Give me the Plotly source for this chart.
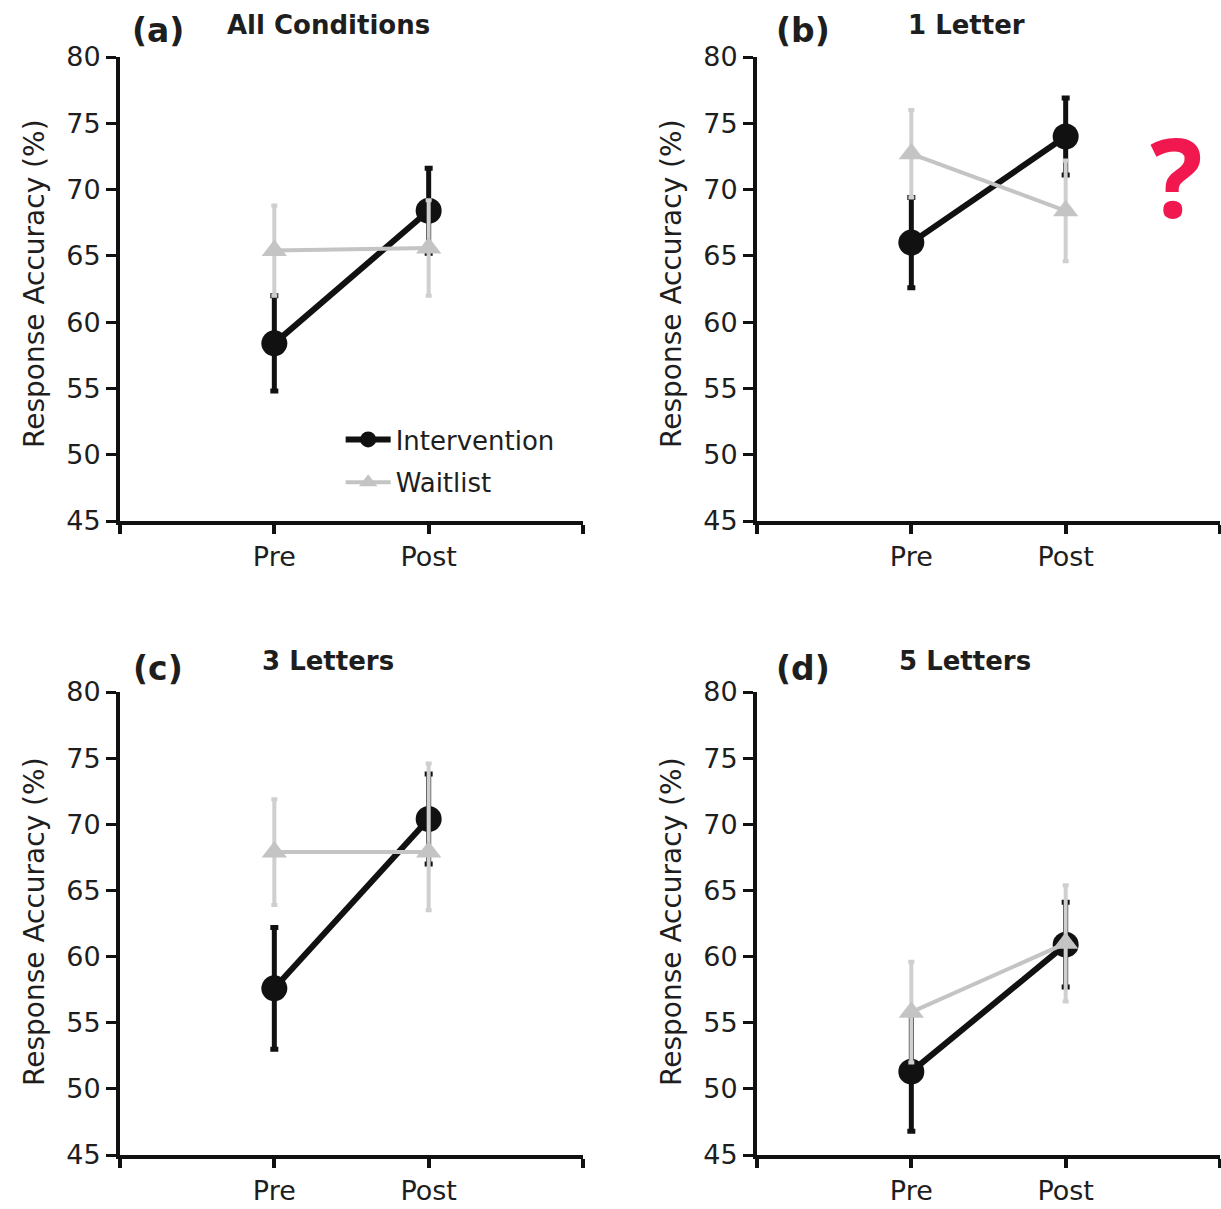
import plotly.graph_objects as go

# ---------------- data ----------------
phases = ["Pre", "Post"]
panel_labels = ["(a)", "(b)", "(c)", "(d)"]
panel_titles = ["All Conditions", "1 Letter", "3 Letters", "5 Letters"]
y_title = "Response Accuracy (%)"

intervention_a = [58.4, 68.4]
intervention_b = [66.0, 74.0]
intervention_c = [57.6, 70.4]
intervention_d = [51.3, 60.9]
intervention_err_a = [3.6, 3.2]
intervention_err_b = [3.4, 2.9]
intervention_err_c = [4.6, 3.4]
intervention_err_d = [4.5, 3.2]

waitlist_a = [65.4, 65.6]
waitlist_b = [72.7, 68.4]
waitlist_c = [67.9, 67.9]
waitlist_d = [55.8, 61.0]
waitlist_err_plus_a = [3.4, 3.6]
waitlist_err_plus_b = [3.3, 3.8]
waitlist_err_plus_c = [4.0, 6.7]
waitlist_err_plus_d = [3.8, 4.4]
waitlist_err_minus_a = [3.4, 3.6]
waitlist_err_minus_b = [3.3, 3.8]
waitlist_err_minus_c = [4.0, 4.4]
waitlist_err_minus_d = [3.8, 4.4]

y_ticks = [45, 50, 55, 60, 65, 70, 75, 80]

intervention = [intervention_a, intervention_b, intervention_c, intervention_d]
intervention_err = [intervention_err_a, intervention_err_b, intervention_err_c, intervention_err_d]
waitlist = [waitlist_a, waitlist_b, waitlist_c, waitlist_d]
waitlist_err_plus = [waitlist_err_plus_a, waitlist_err_plus_b, waitlist_err_plus_c, waitlist_err_plus_d]
waitlist_err_minus = [waitlist_err_minus_a, waitlist_err_minus_b, waitlist_err_minus_c, waitlist_err_minus_d]

# ---------------- style ----------------
W, H = 1221, 1209
FONT = "DejaVu Sans"
BLACK = "#111111"
GRAY = "#c4c4c4"
GRAY_ERR = "#cfcfcf"
TEXT = "#1e1e1e"

x_dom = [[120 / W, 583 / W], [757 / W, 1220 / W], [120 / W, 583 / W], [757 / W, 1220 / W]]
y_dom = [[1 - 521 / H, 1 - 57 / H], [1 - 521 / H, 1 - 57 / H],
         [1 - 1155 / H, 1 - 692 / H], [1 - 1155 / H, 1 - 692 / H]]

xpos = list(range(len(phases)))

fig = go.Figure()

for i in range(4):
    sfx = "" if i == 0 else str(i + 1)
    xa, ya = "x" + sfx, "y" + sfx
    fig.add_trace(go.Scatter(
        x=xpos, y=intervention[i], xaxis=xa, yaxis=ya,
        mode="lines+markers", name="Intervention",
        legendgroup="int", showlegend=(i == 0),
        line=dict(color=BLACK, width=6),
        marker=dict(symbol="circle", size=26, color=BLACK),
        error_y=dict(type="data", array=intervention_err[i], color=BLACK,
                     thickness=5, width=4),
        cliponaxis=False,
    ))
    fig.add_trace(go.Scatter(
        x=xpos, y=waitlist[i], xaxis=xa, yaxis=ya,
        mode="lines+markers", name="Waitlist",
        legendgroup="wait", showlegend=(i == 0),
        line=dict(color=GRAY, width=4),
        marker=dict(symbol="triangle-up", size=22, color=GRAY),
        error_y=dict(type="data", symmetric=False, array=waitlist_err_plus[i],
                     arrayminus=waitlist_err_minus[i], color=GRAY_ERR,
                     thickness=4, width=3),
        cliponaxis=False,
    ))

layout = dict(
    width=W, height=H,
    margin=dict(l=0, r=0, t=0, b=0, autoexpand=False),
    paper_bgcolor="white", plot_bgcolor="white",
    font=dict(family=FONT, color=TEXT),
    showlegend=True,
    legend=dict(x=0.279, y=1 - 416 / H, xanchor="left", yanchor="top",
                font=dict(size=26, family=FONT, color=TEXT),
                bgcolor="rgba(0,0,0,0)", itemwidth=45, tracegroupgap=6),
)

for i in range(4):
    sfx = "" if i == 0 else str(i + 1)
    layout["xaxis" + sfx] = dict(
        domain=x_dom[i], anchor="y" + sfx, range=[-1, 2],
        tickmode="array", tickvals=[-1] + xpos + [2],
        ticktext=[""] + phases + [""],
        showline=True, linecolor=BLACK, linewidth=4,
        ticks="outside", ticklen=9, tickwidth=4, tickcolor=BLACK,
        showgrid=False, zeroline=False, automargin=False,
        tickfont=dict(size=27, family=FONT, color=TEXT),
    )
    layout["yaxis" + sfx] = dict(
        domain=y_dom[i], anchor="x" + sfx, range=[45, 80],
        tickmode="array", tickvals=y_ticks,
        showline=True, linecolor=BLACK, linewidth=4,
        ticks="outside", ticklen=10, tickwidth=3, tickcolor=BLACK,
        showgrid=False, zeroline=False, automargin=False,
        tickfont=dict(size=27, family=FONT, color=TEXT),
    )

fig.update_layout(**layout)

label_pos = [(158, 30), (803, 30), (158, 668), (803, 668)]
title_pos = [(328, 25), (966, 25), (328, 661), (965, 661)]
ytitle_pos = [(34, 284), (671, 284), (34, 922), (671, 922)]
for i in range(4):
    lx, ly = label_pos[i]
    tx, ty = title_pos[i]
    yx, yy = ytitle_pos[i]
    fig.add_annotation(x=lx / W, y=1 - ly / H, xref="paper", yref="paper",
                       text="<b>" + panel_labels[i] + "</b>", showarrow=False,
                       xanchor="center", yanchor="middle",
                       font=dict(size=33, family=FONT, color=TEXT))
    fig.add_annotation(x=tx / W, y=1 - ty / H, xref="paper", yref="paper",
                       text="<b>" + panel_titles[i] + "</b>", showarrow=False,
                       xanchor="center", yanchor="middle",
                       font=dict(size=26, family=FONT, color=TEXT))
    fig.add_annotation(x=yx / W, y=1 - yy / H, xref="paper", yref="paper",
                       text=y_title, showarrow=False, textangle=-90,
                       xanchor="center", yanchor="middle",
                       font=dict(size=28, family=FONT, color=TEXT))

fig.add_annotation(x=1176 / W, y=1 - 175 / H, xref="paper", yref="paper",
                   text="<b>?</b>", showarrow=False,
                   xanchor="center", yanchor="middle",
                   font=dict(size=110, family="Noto Sans", color="#f0184e"))

fig.write_html("out.html")
